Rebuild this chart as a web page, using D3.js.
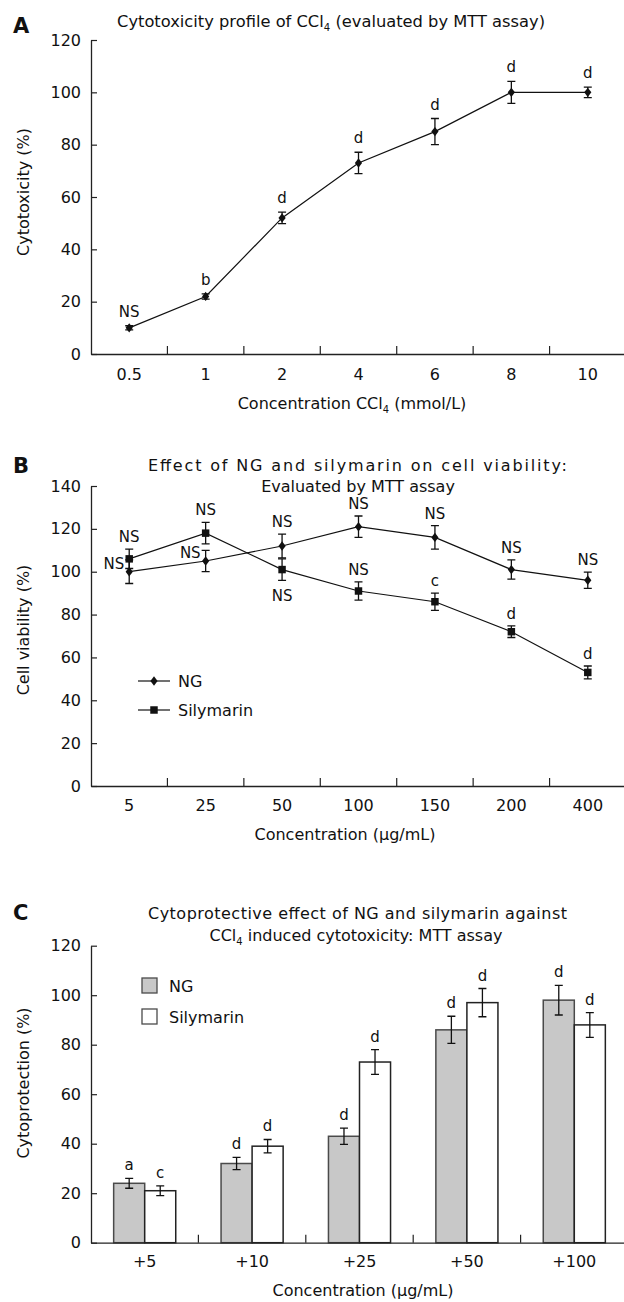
<!DOCTYPE html>
<html>
<head>
<meta charset="utf-8">
<script src="https://cdnjs.cloudflare.com/ajax/libs/d3/7.8.5/d3.min.js"></script>
<style>
  body { margin: 0; background: #fff; }
  svg text { font-family: "DejaVu Sans", Verdana, sans-serif; fill: #111; }
</style>
</head>
<body>
<div class="chart"></div>
<script>
// Data
//= ================================
// A: cytotoxicity of CCl4
var concA = ["0.5", "1", "2", "4", "6", "8", "10"];
var cytoA = [10, 22, 52, 73, 85, 100, 100];
var cytoErrA = [0.8, 1, 2.2, 4.1, 5, 4.2, 2];
var sigA = ["NS", "b", "d", "d", "d", "d", "d"];
var ticksA = [0, 20, 40, 60, 80, 100, 120];

// B: cell viability
var concB = ["5", "25", "50", "100", "150", "200", "400"];
var ngB = [100, 105, 112, 121, 116, 101, 96];
var ngErrB = [5.5, 5, 5.5, 5, 5.5, 4.5, 3.8];
var silB = [106, 118, 101, 91, 86, 72, 53];
var silErrB = [4.5, 5, 5, 4.3, 4, 2.7, 3];
var ngSigB = ["NS", "NS", "NS", "NS", "NS", "NS", "NS"];
var silSigB = ["NS", "NS", "NS", "NS", "c", "d", "d"];
var ticksB = [0, 20, 40, 60, 80, 100, 120, 140];

// C: cytoprotection
var doseC = ["+5", "+10", "+25", "+50", "+100"];
var ngC = [24, 32, 43, 86, 98];
var ngErrC = [2, 2.5, 3.3, 5.5, 6];
var silC = [21, 39, 73, 97, 88];
var silErrC = [2, 2.7, 5, 5.7, 5];
var ngSigC = ["a", "d", "d", "d", "d"];
var silSigC = ["c", "d", "d", "d", "d"];
var ticksC = [0, 20, 40, 60, 80, 100, 120];

var seriesC = ["NG", "Silymarin"];

// Step 1: svg
//= ================================
var svg = d3.select(".chart")
  .append("svg")
  .attr("width", 624)
  .attr("height", 1302);

var axisLeftX = 91;
var axisRightX = 626;

function diamond(s) {
  return "M0," + (-s * 1.3) + "L" + s + ",0L0," + (s * 1.3) + "L" + (-s) + ",0Z";
}

// draws y axis, x axis line, boundary ticks and labels
function drawAxes(x, y, yTicks, labelPad) {
  var y0 = y(0);
  var leftAxis = d3.axisLeft(y)
    .tickValues(yTicks)
    .tickSizeInner(-6)
    .tickSizeOuter(0)
    .tickPadding(10);

  var gy = svg.append("g")
    .attr("transform", `translate(${axisLeftX},0)`)
    .call(leftAxis);
  gy.attr("font-size", 16).attr("font-family", null);
  gy.selectAll("line").attr("stroke", "#222").attr("stroke-width", 1.2);
  gy.select(".domain").attr("stroke", "#222").attr("stroke-width", 1.3);

  var bottomAxis = d3.axisBottom(x)
    .tickSize(0)
    .tickPadding(labelPad);

  var gx = svg.append("g")
    .attr("transform", `translate(0,${y0})`)
    .call(bottomAxis);
  gx.attr("font-size", 16).attr("font-family", null);
  gx.select(".domain").attr("stroke", "#222").attr("stroke-width", 1.3);

  // ticks between categories, pointing up
  gx.selectAll(".sep")
    .data(x.domain().slice(1))
    .enter()
    .append("line")
    .attr("x1", d => x(d))
    .attr("x2", d => x(d))
    .attr("y1", 0)
    .attr("y2", -8)
    .attr("stroke", "#222")
    .attr("stroke-width", 1.2);
}

function errBars(g, data, cx, y) {
  g.selectAll(null)
    .data(data)
    .enter()
    .append("path")
    .attr("d", d => {
      var xx = cx(d), t = y(d.v + d.e), b = y(d.v - d.e);
      return `M${xx - 4},${t}H${xx + 4}M${xx},${t}V${b}M${xx - 4},${b}H${xx + 4}`;
    })
    .attr("fill", "none")
    .attr("stroke", "#111")
    .attr("stroke-width", 1.3);
}

function ccl4(sel, before, after, size) {
  sel.append("tspan").text(before + "CCl");
  sel.append("tspan").text("4").attr("font-size", size * 0.62).attr("dy", 4);
  sel.append("tspan").text(after).attr("dy", -4);
}

// ============================================================
// Panel A
// ============================================================
var xA = d3.scaleBand().domain(concA).range([axisLeftX, axisRightX]);
var yA = d3.scaleLinear().domain([0, 120]).range([354, 40]);

svg.append("text").attr("x", 13).attr("y", 33)
  .attr("font-size", 21).attr("font-weight", "bold").text("A");

var titleA = svg.append("text")
  .attr("x", 331).attr("y", 27)
  .attr("text-anchor", "middle")
  .attr("font-size", 16.3);
ccl4(titleA, "Cytotoxicity profile of ", " (evaluated by MTT assay)", 16.3);

drawAxes(xA, yA, ticksA, 15);

var dataA = concA.map((c, i) => ({ c: c, v: cytoA[i], e: cytoErrA[i], s: sigA[i] }));
var cxA = d => xA(d.c) + xA.bandwidth() / 2;

svg.append("path")
  .datum(dataA)
  .attr("fill", "none")
  .attr("stroke", "#111")
  .attr("stroke-width", 1.2)
  .attr("d", d3.line().x(cxA).y(d => yA(d.v)));

var gA = svg.append("g");
errBars(gA, dataA, cxA, yA);

gA.selectAll(".mk")
  .data(dataA)
  .enter()
  .append("path")
  .attr("transform", d => `translate(${cxA(d)},${yA(d.v)})`)
  .attr("d", diamond(3.6))
  .attr("fill", "#111");

gA.selectAll(".sig")
  .data(dataA)
  .enter()
  .append("text")
  .attr("x", cxA)
  .attr("y", d => yA(d.v + d.e) - 9)
  .attr("text-anchor", "middle")
  .attr("font-size", 15)
  .text(d => d.s);

svg.append("text")
  .attr("transform", "translate(29,192) rotate(-90)")
  .attr("text-anchor", "middle")
  .attr("font-size", 16)
  .text("Cytotoxicity (%)");

var axisTitleA = svg.append("text")
  .attr("x", 352).attr("y", 409)
  .attr("text-anchor", "middle")
  .attr("font-size", 16);
ccl4(axisTitleA, "Concentration ", " (mmol/L)", 16);

// ============================================================
// Panel B
// ============================================================
var xB = d3.scaleBand().domain(concB).range([axisLeftX, axisRightX]);
var yB = d3.scaleLinear().domain([0, 140]).range([786, 486]);

svg.append("text").attr("x", 13).attr("y", 473)
  .attr("font-size", 21).attr("font-weight", "bold").text("B");

svg.append("text")
  .attr("x", 148).attr("y", 471)
  .attr("font-size", 16)
  .attr("textLength", 419)
  .attr("lengthAdjust", "spacing")
  .text("Effect of NG and silymarin on cell viability:");

svg.append("text")
  .attr("x", 358).attr("y", 492)
  .attr("text-anchor", "middle")
  .attr("font-size", 16)
  .text("Evaluated by MTT assay");

drawAxes(xB, yB, ticksB, 14);

var cxB = d => xB(d.c) + xB.bandwidth() / 2;
var ngDataB = concB.map((c, i) => ({ c: c, v: ngB[i], e: ngErrB[i], s: ngSigB[i] }));
var silDataB = concB.map((c, i) => ({ c: c, v: silB[i], e: silErrB[i], s: silSigB[i] }));

// where each label sits relative to its point
var ngPosB = ["left", "left", "above", "above", "above", "above", "above"];
var silPosB = ["above", "above", "below", "above", "above", "above", "above"];

[ngDataB, silDataB].forEach(function (data) {
  svg.append("path")
    .datum(data)
    .attr("fill", "none")
    .attr("stroke", "#111")
    .attr("stroke-width", 1.2)
    .attr("d", d3.line().x(cxB).y(d => yB(d.v)));
});

[ngDataB, silDataB].forEach(function (data, k) {
  var g = svg.append("g");
  errBars(g, data, cxB, yB);
  g.selectAll(".mk")
    .data(data)
    .enter()
    .append("path")
    .attr("transform", d => `translate(${cxB(d)},${yB(d.v)})`)
    .attr("d", k === 0 ? diamond(3.6) : d3.symbol().type(d3.symbolSquare).size(56)())
    .attr("fill", "#111");

  var pos = k === 0 ? ngPosB : silPosB;
  g.selectAll(".sig")
    .data(data)
    .enter()
    .append("text")
    .attr("font-size", 15)
    .attr("text-anchor", (d, i) => pos[i] === "left" ? "end" : "middle")
    .attr("x", (d, i) => pos[i] === "left" ? cxB(d) - 5 : cxB(d))
    .attr("y", (d, i) => {
      if (pos[i] === "left") return yB(d.v) - 3;
      if (pos[i] === "below") return yB(d.v - d.e) + 21;
      return yB(d.v + d.e) - 7;
    })
    .text(d => d.s);
});

// legend B
var legB = svg.append("g");
[["NG", 681], ["Silymarin", 710]].forEach(function (item, k) {
  legB.append("line")
    .attr("x1", 138).attr("x2", 170)
    .attr("y1", item[1]).attr("y2", item[1])
    .attr("stroke", "#111").attr("stroke-width", 1.2);
  legB.append("path")
    .attr("transform", `translate(154,${item[1]})`)
    .attr("d", k === 0 ? diamond(3.6) : d3.symbol().type(d3.symbolSquare).size(56)())
    .attr("fill", "#111");
  legB.append("text")
    .attr("x", 178).attr("y", item[1] + 6)
    .attr("font-size", 16)
    .text(item[0]);
});

svg.append("text")
  .attr("transform", "translate(29,630) rotate(-90)")
  .attr("text-anchor", "middle")
  .attr("font-size", 16)
  .text("Cell viability (%)");

svg.append("text")
  .attr("x", 345).attr("y", 840)
  .attr("text-anchor", "middle")
  .attr("font-size", 16)
  .text("Concentration (\u03BCg/mL)");

// ============================================================
// Panel C
// ============================================================
var xC = d3.scaleBand().domain(doseC).range([axisLeftX, 628]);
var xC1 = d3.scaleBand().domain(seriesC).range([0, xC.bandwidth()]).paddingOuter(0.73);
var yC = d3.scaleLinear().domain([0, 120]).range([1242.7, 945.7]);

svg.append("text").attr("x", 13).attr("y", 920)
  .attr("font-size", 21).attr("font-weight", "bold").text("C");

svg.append("text")
  .attr("x", 148).attr("y", 919)
  .attr("font-size", 16)
  .attr("textLength", 419)
  .attr("lengthAdjust", "spacing")
  .text("Cytoprotective effect of NG and silymarin against");

var titleC2 = svg.append("text")
  .attr("x", 356).attr("y", 941)
  .attr("text-anchor", "middle")
  .attr("font-size", 16);
ccl4(titleC2, "", " induced cytotoxicity: MTT assay", 16);

var dataC = [];
doseC.forEach(function (c, i) {
  dataC.push({ c: c, k: "NG", v: ngC[i], e: ngErrC[i], s: ngSigC[i] });
  dataC.push({ c: c, k: "Silymarin", v: silC[i], e: silErrC[i], s: silSigC[i] });
});
var cxC = d => xC(d.c) + xC1(d.k) + xC1.bandwidth() / 2;

var gC = svg.append("g");
gC.selectAll("rect")
  .data(dataC)
  .enter()
  .append("rect")
  .attr("x", d => xC(d.c) + xC1(d.k))
  .attr("y", d => yC(d.v))
  .attr("width", xC1.bandwidth())
  .attr("height", d => yC(0) - yC(d.v))
  .attr("fill", d => d.k === "NG" ? "#c8c8c8" : "#fff")
  .attr("stroke", d => d.k === "NG" ? "#4a4a4a" : "#222")
  .attr("stroke-width", 1.5);

drawAxes(xC, yC, ticksC, 13);

errBars(gC, dataC, cxC, yC);

gC.selectAll(".sig")
  .data(dataC)
  .enter()
  .append("text")
  .attr("x", cxC)
  .attr("y", d => yC(d.v + d.e) - 8)
  .attr("text-anchor", "middle")
  .attr("font-size", 15)
  .text(d => d.s);

// legend C
var legC = svg.append("g");
[["NG", 978], ["Silymarin", 1009]].forEach(function (item, k) {
  legC.append("rect")
    .attr("x", 142).attr("y", item[1])
    .attr("width", 15).attr("height", 15)
    .attr("fill", k === 0 ? "#c8c8c8" : "#fff")
    .attr("stroke", "#4a4a4a")
    .attr("stroke-width", 1.3);
  legC.append("text")
    .attr("x", 169).attr("y", item[1] + 14)
    .attr("font-size", 16)
    .text(item[0]);
});

svg.append("text")
  .attr("transform", "translate(29,1083) rotate(-90)")
  .attr("text-anchor", "middle")
  .attr("font-size", 16)
  .text("Cytoprotection (%)");

svg.append("text")
  .attr("x", 363).attr("y", 1296)
  .attr("text-anchor", "middle")
  .attr("font-size", 16)
  .text("Concentration (\u03BCg/mL)");
</script>
</body>
</html>
